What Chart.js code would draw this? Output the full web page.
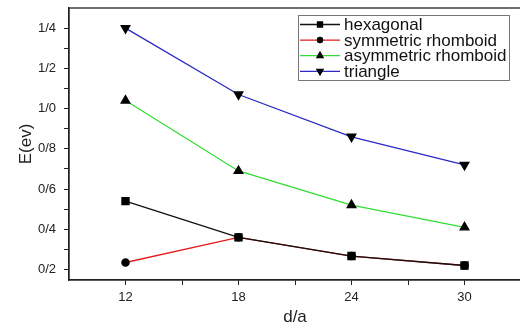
<!DOCTYPE html>
<html>
<head>
<meta charset="utf-8">
<script src="https://cdn.jsdelivr.net/npm/chart.js@4"></script>
<style>
  html, body { margin: 0; padding: 0; background: #fff; overflow: hidden; }
  #wrap { width: 530px; height: 324px; }
</style>
</head>
<body>
<div id="wrap"><canvas id="energyChart" width="530" height="324"></canvas></div>
<script>
// d/a values on the x axis
const sizes = [12, 18, 24, 30];

const seriesNames = ['hexagonal', 'symmetric rhomboid', 'asymmetric rhomboid', 'triangle'];
const hexagonal = [0.54, 0.36, 0.267, 0.22];
const symmetricRhomboid = [0.235, 0.36, 0.267, 0.22];
const asymmetricRhomboid = [1.04, 0.69, 0.52, 0.41];
const triangle = [1.40, 1.07, 0.86, 0.72];

const xTickValues = [12, 15, 18, 21, 24, 27, 30];
const xTickLabels = ['12', '', '18', '', '24', '', '30'];
const yTickValues = [0.2, 0.3, 0.4, 0.5, 0.6, 0.7, 0.8, 0.9, 1.0, 1.1, 1.2, 1.3, 1.4];
const yTickLabels = ['0/2', '', '0/4', '', '0/6', '', '0/8', '', '1/0', '', '1/2', '', '1/4'];

const FONT = "'Liberation Sans', Arial, sans-serif";

function toPoints(values) {
  return values.map((v, i) => ({ x: sizes[i], y: v }));
}

const styles = [
  { color: '#111111', point: 'rect', radius: 5, rotation: 0 },
  { color: '#e41e1e', point: 'circle', radius: 3.6, rotation: 0 },
  { color: '#33dd33', point: 'triangle', radius: 5, rotation: 0 },
  { color: '#2a2ac4', point: 'triangle', radius: 5, rotation: 180 }
];
const allSeries = [hexagonal, symmetricRhomboid, asymmetricRhomboid, triangle];

// frame around the plot + legend box in the top right corner
const framePlugin = {
  id: 'frameAndLegend',
  afterDraw(chart) {
    const ctx = chart.ctx;
    const a = chart.chartArea;
    ctx.save();
    ctx.strokeStyle = '#222';
    ctx.lineWidth = 1.3;
    ctx.strokeRect(a.left, a.top, a.right - a.left, a.bottom - a.top);

    // legend
    const boxX = 298, boxY = 15, boxW = 211, boxH = 65;
    ctx.fillStyle = '#fff';
    ctx.fillRect(boxX, boxY, boxW, boxH);
    ctx.strokeStyle = '#777';
    ctx.lineWidth = 1;
    ctx.strokeRect(boxX + 0.5, boxY + 0.5, boxW, boxH);
    ctx.font = '17px ' + FONT;
    ctx.textBaseline = 'middle';
    chart.data.datasets.forEach((ds, i) => {
      const y = boxY + 9.5 + i * 15.6;
      ctx.strokeStyle = ds.borderColor;
      ctx.lineWidth = 1.3;
      ctx.beginPath();
      ctx.moveTo(boxX + 2, y);
      ctx.lineTo(boxX + 42, y);
      ctx.stroke();
      ctx.fillStyle = '#000';
      ctx.strokeStyle = '#000';
      Chart.helpers.drawPoint(ctx, {
        pointStyle: ds.pointStyle,
        radius: ds.pointRadius * 0.72,
        rotation: ds.pointRotation,
        borderWidth: 1
      }, boxX + 22, y);
      ctx.fillStyle = '#111';
      ctx.fillText(ds.label, boxX + 46, y + 1);
    });
    ctx.restore();
  }
};

const ctx = document.getElementById('energyChart').getContext('2d');
new Chart(ctx, {
  type: 'line',
  data: {
    datasets: seriesNames.map((name, i) => ({
      label: name,
      data: toPoints(allSeries[i]),
      borderColor: styles[i].color,
      borderWidth: 1.3,
      backgroundColor: '#000',
      pointBackgroundColor: '#000',
      pointBorderColor: '#000',
      pointStyle: styles[i].point,
      pointRadius: styles[i].radius,
      pointRotation: styles[i].rotation,
      tension: 0,
      fill: false
    }))
  },
  options: {
    responsive: false,
    animation: false,
    layout: { padding: { top: 8, right: 9, left: 0, bottom: 0 } },
    plugins: {
      legend: { display: false },
      tooltip: { enabled: false }
    },
    scales: {
      x: {
        type: 'linear',
        min: 9,
        max: 33,
        afterFit(scale) {
          scale.height = 44;
          scale.paddingLeft = 0;
          scale.paddingRight = 0;
        },
        afterBuildTicks(scale) {
          scale.ticks = xTickValues.map(v => ({ value: v }));
        },
        ticks: {
          autoSkip: false,
          maxRotation: 0,
          padding: 5,
          color: '#222',
          font: { family: FONT, size: 13 },
          callback: (v, i) => xTickLabels[i]
        },
        grid: {
          drawOnChartArea: false,
          drawTicks: true,
          tickLength: 5,
          tickColor: '#222'
        },
        border: { color: '#222', width: 1.3 },
        title: {
          display: true,
          text: 'd/a',
          color: '#222',
          font: { family: FONT, size: 17 },
          padding: { top: 0, bottom: -4 }
        }
      },
      y: {
        type: 'linear',
        min: 0.148,
        max: 1.5,
        afterFit(scale) {
          scale.width = 69;
          scale.paddingTop = 0;
          scale.paddingBottom = 0;
        },
        afterBuildTicks(scale) {
          scale.ticks = yTickValues.map(v => ({ value: v }));
        },
        ticks: {
          autoSkip: false,
          padding: 8,
          color: '#222',
          font: { family: FONT, size: 13 },
          callback: (v, i) => yTickLabels[i]
        },
        grid: {
          drawOnChartArea: false,
          drawTicks: true,
          tickLength: 5,
          tickColor: '#222'
        },
        border: { color: '#222', width: 1.3 },
        title: {
          display: true,
          text: 'E(ev)',
          color: '#222',
          font: { family: FONT, size: 17 },
          padding: { top: 16, bottom: 0 }
        }
      }
    }
  },
  plugins: [framePlugin]
});
</script>
</body>
</html>
